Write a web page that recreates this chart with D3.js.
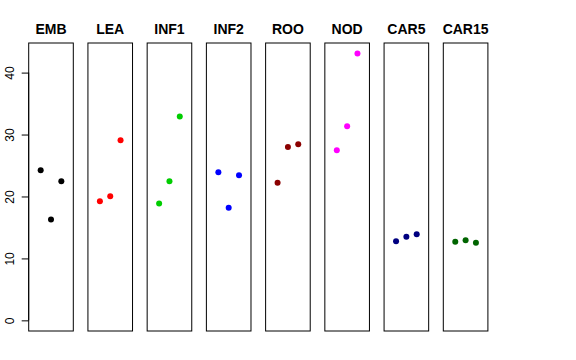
<!DOCTYPE html>
<html><head><meta charset="utf-8">
<script src="https://cdn.jsdelivr.net/npm/d3@7"></script>
<style>body{margin:0;background:#fff}svg{display:block}text{font-family:"Liberation Sans",Arial,Helvetica,sans-serif}</style>
</head><body><svg id="c" width="576" height="360"></svg>
<script>
const groups = ["EMB","LEA","INF1","INF2","ROO","NOD","CAR5","CAR15"];
const colors = ["#000000","#FF0000","#00CD00","#0000FF","#8B0000","#FF00FF","#000080","#006400"];
const valuesEMB = [24.25, 16.27, 22.47];
const valuesLEA = [19.24, 20.05, 29.09];
const valuesINF1 = [18.85, 22.47, 32.9];
const valuesINF2 = [23.92, 18.16, 23.44];
const valuesROO = [22.2, 28.0, 28.44];
const valuesNOD = [27.47, 31.35, 43.07];
const valuesCAR5 = [12.78, 13.48, 13.91];
const valuesCAR15 = [12.67, 12.93, 12.51];
const yTicks = [0, 10, 20, 30, 40];
const series = [valuesEMB, valuesLEA, valuesINF1, valuesINF2, valuesROO, valuesNOD, valuesCAR5, valuesCAR15];

(function () {
const svg = d3.select("#c");
const plotTop = 43, plotBottom = 331, panelW = 44.6;
const panelLefts = d3.scaleLinear().domain([0, 7]).range([28.7, 443.3]);
const y = d3.scaleLinear().domain([-1.72, 44.78]).range([plotBottom, plotTop]);

groups.forEach((g, i) => {
  const x0 = panelLefts(i);
  const x = d3.scaleLinear().domain([-0.16, 4.16]).range([x0, x0 + panelW]);
  const p = svg.append("g");
  p.append("rect").attr("x", x0).attr("y", plotTop).attr("width", panelW).attr("height", plotBottom - plotTop)
    .attr("fill", "none").attr("stroke", "#000").attr("stroke-width", 1);
  p.append("text").attr("x", x0 + panelW / 2).attr("y", 34).attr("text-anchor", "middle")
    .attr("font-size", 14).attr("font-weight", "bold").text(g);
  p.selectAll("circle").data(series[i]).enter().append("circle")
    .attr("cx", (d, j) => x(j + 1)).attr("cy", d => y(d)).attr("r", 3)
    .attr("fill", colors[i]);
  if (i === 0) {
    const ax = svg.append("g").attr("transform", `translate(${x0},0)`)
      .call(d3.axisLeft(y).tickValues(yTicks).tickSize(7).tickPadding(0).tickFormat(d3.format("d")));
    ax.select(".domain").attr("d", `M0,${y(0)}V${y(40)}`).attr("stroke", "#000");
    ax.selectAll(".tick line").attr("stroke", "#000");
    ax.selectAll(".tick text").attr("font-size", 12).attr("fill", "#000")
      .attr("font-family", '"Liberation Sans",Arial,sans-serif')
      .attr("x", 0).attr("dy", "0").attr("y", 0)
      .attr("transform", "translate(-15,0) rotate(-90)")
      .attr("text-anchor", "middle");
  }
});
})();
</script></body></html>
